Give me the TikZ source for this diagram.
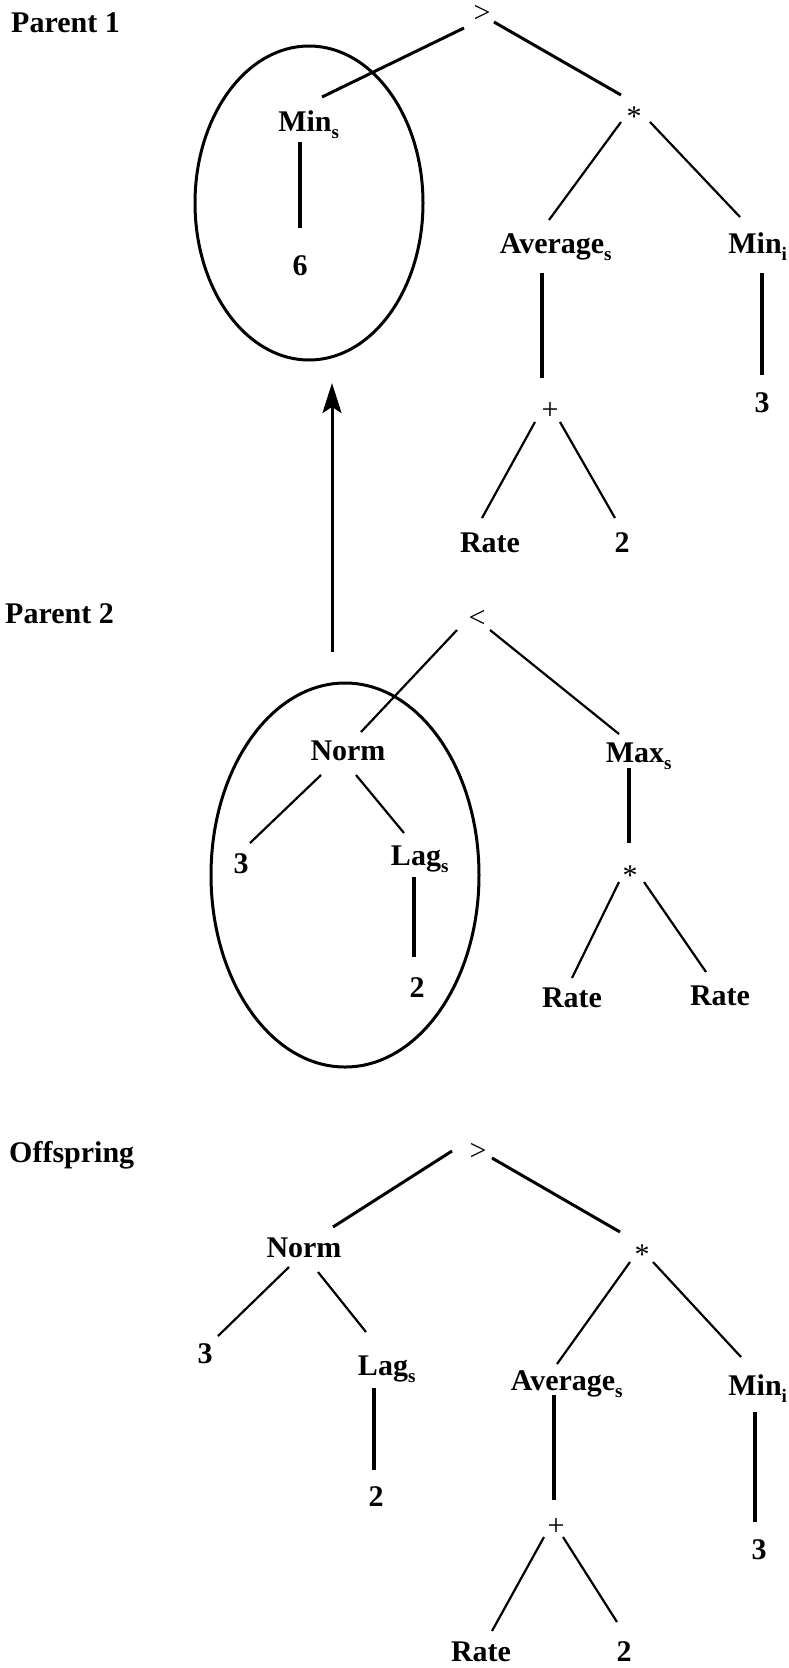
\documentclass[tikz,border=0pt]{standalone}
\usepackage{fontspec}
\setmainfont{Liberation Serif}
\usetikzlibrary{shapes.geometric,arrows.meta}
\newcommand{\lowsub}[1]{\rlap{\raisebox{-7pt}{\fontsize{19}{19}\selectfont #1}}}

\begin{document}
\begin{tikzpicture}[x=1pt, y=-1pt,
    word/.style ={font=\bfseries\fontsize{30}{36}\selectfont, inner sep=3pt, anchor=base},
    oper/.style ={font=\fontsize{30}{36}\selectfont, inner sep=3pt, anchor=base},
    tag/.style ={font=\bfseries\fontsize{30}{36}\selectfont, inner sep=0pt, anchor=base west},
    ring/.style ={ellipse, draw, line width=3pt, inner sep=0pt, outer sep=0pt},
    limb/.style ={line width=3pt},
    branch/.style ={line width=2.2pt},
    stem/.style ={line width=3.4pt}]
   \useasboundingbox (0,0) rectangle (788,1668);

   \node[tag] (P1) at (11,32) {Parent 1};
   \node[oper] (gt1) at (482,22) {>};
   \node[word] (min1) at (305,131) {Min\lowsub{s}};
   \node[word] (six1) at (300,275) {6};
   \node[oper] (star1) at (634,126) {*};
   \node[word] (avg1) at (552,253) {Average\lowsub{s}};
   \node[word] (mini1) at (755,253) {Min\lowsub{i}};
   \node[word] (three1) at (762,412) {3};
   \node[oper] (plus1) at (550,419) {+};
   \node[word] (rate1) at (490,552) {Rate};
   \node[word] (two1) at (622,552) {2};
   \node[ring, minimum width=228pt, minimum height=314pt] (ring1) at (309,203) {};

   \draw[limb] ([xshift=-18pt,yshift=-6pt]gt1.base) -- ([xshift=17pt,yshift=34pt]min1.base);
   \draw[limb] ([xshift=12pt]gt1.base) -- ([xshift=-13pt,yshift=31pt]star1.base);
   \draw[branch] ([xshift=-13pt,yshift=4pt]star1.base) -- ([xshift=-3pt,yshift=33pt]avg1.base);
   \draw[branch] ([xshift=16pt,yshift=4pt]star1.base) -- ([xshift=-15pt,yshift=36pt]mini1.base);
   \draw[stem] ([xshift=-5pt,yshift=-11pt]min1.base) -- ([yshift=47pt]six1.base);
   \draw[stem] ([xshift=-10pt,yshift=-20pt]avg1.base) -- ([xshift=-8pt,yshift=41pt]plus1.base);
   \draw[stem] ([xshift=7pt,yshift=-20pt]mini1.base) -- ([yshift=37pt]three1.base);
   \draw[branch] ([xshift=-15pt,yshift=-3pt]plus1.base) -- ([xshift=-8pt,yshift=34pt]rate1.base);
   \draw[branch] ([xshift=10pt,yshift=-3pt]plus1.base) -- ([xshift=-7pt,yshift=34pt]two1.base);

   \node[tag] (P2) at (5,623) {Parent 2};
   \node[oper] (lt2) at (477,627) {<};
   \node[word] (norm2) at (348,760) {Norm};
   \node[word] (max2) at (635,762) {Max\lowsub{s}};
   \node[word] (three2) at (241,873) {3};
   \node[word] (lag2) at (416,865) {Lag\lowsub{s}};
   \node[word] (two2) at (417,997) {2};
   \node[oper] (star2) at (630,885) {*};
   \node[word] (rateL2) at (572,1007) {Rate};
   \node[word] (rateR2) at (720,1005) {Rate};
   \node[ring, minimum width=268pt, minimum height=384pt] (ring2) at (345,875) {};

   \draw[branch] ([xshift=-20pt,yshift=-3pt]lt2.base) -- ([xshift=13pt,yshift=28pt]norm2.base);
   \draw[branch] ([xshift=13pt,yshift=-3pt]lt2.base) -- ([xshift=-16pt,yshift=28pt]max2.base);
   \draw[branch] ([xshift=-27pt,yshift=-15pt]norm2.base) -- ([xshift=9pt,yshift=30pt]three2.base);
   \draw[branch] ([xshift=8pt,yshift=-15pt]norm2.base) -- ([xshift=-12pt,yshift=32pt]lag2.base);
   \draw[stem] ([xshift=-2pt,yshift=-12pt]lag2.base) -- ([xshift=-3pt,yshift=40pt]two2.base);
   \draw[stem] ([xshift=-6pt,yshift=-6pt]max2.base) -- ([xshift=-1pt,yshift=42pt]star2.base);
   \draw[branch] ([xshift=-11pt,yshift=3pt]star2.base) -- ([yshift=29pt]rateL2.base);
   \draw[branch] ([xshift=14pt,yshift=3pt]star2.base) -- ([xshift=-14pt,yshift=33pt]rateR2.base);

   \draw[line width=3pt, -{Stealth[length=30pt,width=19pt,inset=6pt]}]
      ([xshift=-13pt,yshift=31pt]ring2.north) -- ([xshift=23pt,yshift=-23pt]ring1.south);

   \node[tag] (P3) at (9,1162) {Offspring};
   \node[oper] (gt3) at (478,1160) {>};
   \node[word] (norm3) at (304,1257) {Norm};
   \node[oper] (star3) at (642,1264) {*};
   \node[word] (three3) at (205,1363) {3};
   \node[word] (lag3) at (383,1375) {Lag\lowsub{s}};
   \node[word] (two3) at (376,1506) {2};
   \node[word] (avg3) at (563,1390) {Average\lowsub{s}};
   \node[word] (mini3) at (755,1395) {Min\lowsub{i}};
   \node[oper] (plus3) at (556,1535) {+};
   \node[word] (threeB3) at (759,1559) {3};
   \node[word] (rate3) at (481,1661) {Rate};
   \node[word] (twoB3) at (624,1661) {2};

   \draw[limb] ([xshift=-26pt,yshift=9pt]gt3.base) -- ([xshift=29pt,yshift=30pt]norm3.base);
   \draw[limb] ([xshift=14pt,yshift=2pt]gt3.base) -- ([xshift=-22pt,yshift=32pt]star3.base);
   \draw[branch] ([xshift=-15pt,yshift=-10pt]norm3.base) -- ([xshift=13pt,yshift=27pt]three3.base);
   \draw[branch] ([xshift=14pt,yshift=-15pt]norm3.base) -- ([xshift=-17pt,yshift=43pt]lag3.base);
   \draw[stem] ([xshift=-9pt,yshift=-13pt]lag3.base) -- ([xshift=-2pt,yshift=36pt]two3.base);
   \draw[branch] ([xshift=-12pt,yshift=2pt]star3.base) -- ([xshift=-6pt,yshift=26pt]avg3.base);
   \draw[branch] ([xshift=11pt,yshift=2pt]star3.base) -- ([xshift=-14pt,yshift=38pt]mini3.base);
   \draw[stem] ([xshift=-9pt,yshift=-5pt]avg3.base) -- ([xshift=-2pt,yshift=35pt]plus3.base);
   \draw[stem] ([yshift=-17pt]mini3.base) -- ([xshift=-4pt,yshift=37pt]threeB3.base);
   \draw[branch] ([xshift=-12pt,yshift=-2pt]plus3.base) -- ([xshift=11pt,yshift=30pt]rate3.base);
   \draw[branch] ([xshift=7pt,yshift=-2pt]plus3.base) -- ([xshift=-7pt,yshift=39pt]twoB3.base);
 \end{tikzpicture}
\end{document}
